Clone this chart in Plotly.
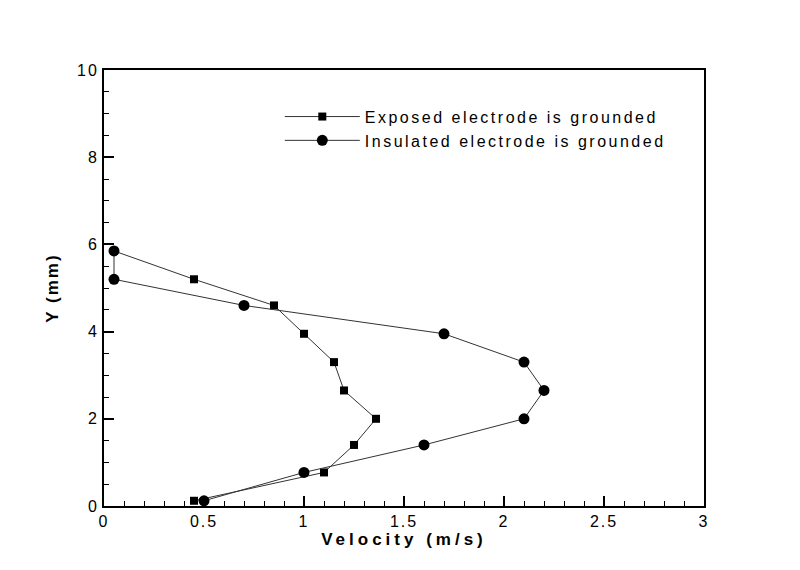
import plotly.graph_objects as go

y_levels = [5.85, 5.2, 4.6, 3.95, 3.3, 2.65, 2.0, 1.4, 0.77, 0.12]
exposed_v = [0.05, 0.45, 0.85, 1.0, 1.15, 1.2, 1.36, 1.25, 1.1, 0.45]
insulated_v = [0.05, 0.05, 0.7, 1.7, 2.1, 2.2, 2.1, 1.6, 1.0, 0.5]
names = ["Exposed electrode is grounded", "Insulated electrode is grounded"]

font_fam = "Liberation Sans, Arial, sans-serif"

fig = go.Figure()
fig.add_trace(go.Scatter(
    x=exposed_v, y=y_levels, mode="lines+markers", name=names[0],
    line=dict(color="#333333", width=1),
    marker=dict(symbol="square", size=8, color="black"),
))
fig.add_trace(go.Scatter(
    x=insulated_v, y=y_levels, mode="lines+markers", name=names[1],
    line=dict(color="#333333", width=1),
    marker=dict(symbol="circle", size=11, color="black"),
))

axis_common = dict(
    showgrid=False, zeroline=False, showline=True, linecolor="black",
    linewidth=2, mirror=True, ticks="inside", ticklen=10, tickwidth=2,
    tickcolor="black", tickfont=dict(family=font_fam, size=16, color="black"),
)

fig.update_xaxes(
    range=[0, 3], dtick=0.5, tick0=0,
    minor=dict(dtick=0.1, ticks="inside", ticklen=5, tickcolor="black", tickwidth=1),
    title=dict(text="<b>Velocity (m/s)</b>",
               font=dict(family=font_fam, size=17, color="black"), standoff=0),
    **axis_common,
)
fig.update_yaxes(
    range=[0, 10], dtick=2, tick0=0,
    minor=dict(dtick=0.5, ticks="inside", ticklen=5, tickcolor="black", tickwidth=1),
    title=dict(text="<b>Y (mm)</b>",
               font=dict(family=font_fam, size=17, color="black"), standoff=18),
    **axis_common,
)

fig.update_layout(
    width=800, height=570,
    margin=dict(l=104, r=96, t=70, b=64),
    paper_bgcolor="white", plot_bgcolor="white",
    showlegend=True,
    legend=dict(
        x=0.293, y=0.932, xanchor="left", yanchor="top",
        bgcolor="rgba(0,0,0,0)", itemwidth=75,
        entrywidth=400, entrywidthmode="pixels",
        font=dict(family=font_fam, size=16, color="black"),
        tracegroupgap=0,
    ),
)

post = """
var gd = document.getElementById('{plot_id}');
function spaceText(){
  gd.querySelectorAll('.xtitle').forEach(function(e){e.style.letterSpacing='4px';});
  gd.querySelectorAll('.ytitle').forEach(function(e){e.style.letterSpacing='2px';});
  gd.querySelectorAll('.legendtext').forEach(function(e){e.style.letterSpacing='2.5px';});
  gd.querySelectorAll('.xtick text, .ytick text').forEach(function(e){e.style.letterSpacing='2px';});
  gd.querySelectorAll('.legend .scrollbox, .legend').forEach(function(e){e.removeAttribute('clip-path');});
}
spaceText();
if (gd.on) { gd.on('plotly_afterplot', spaceText); }
"""

fig.write_html("out.html", post_script=post)
